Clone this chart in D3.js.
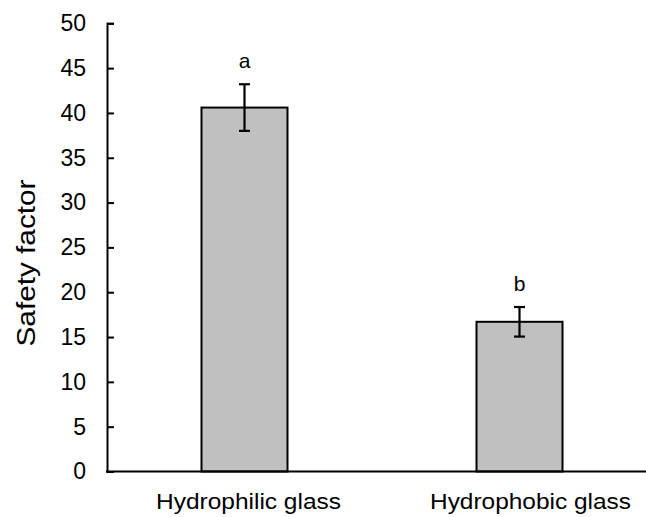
<!DOCTYPE html>
<html><head><meta charset="utf-8">
<script src="https://cdn.jsdelivr.net/npm/d3@7"></script>
<style>body{margin:0;background:#fff}svg{display:block}text{font-family:"Liberation Sans",Arial,sans-serif;fill:#000}</style>
</head><body>
<script>
const categories = ["Hydrophilic glass", "Hydrophobic glass"];
const means = [40.6, 16.7];
const errors = [2.6, 1.65];
const letters = ["a", "b"];
const yTicks = [0, 5, 10, 15, 20, 25, 30, 35, 40, 45, 50];

const W = 646, H = 517;
const svg = d3.select("body").append("svg").attr("width", W).attr("height", H);
const x = d3.scaleBand().domain(categories).range([107, 657]).paddingInner(0.6873).paddingOuter(0.34365);
const y = d3.scaleLinear().domain([0, 50]).range([471.5, 23.3]);

// bars
svg.selectAll("rect.bar").data(categories).join("rect")
  .attr("x", d => x(d)).attr("y", (d,i) => y(means[i]))
  .attr("width", x.bandwidth()).attr("height", (d,i) => y(0) - y(means[i]))
  .attr("fill", "#c0c0c0").attr("stroke", "#000").attr("stroke-width", 2);

// error bars
const cap = 5.5;
categories.forEach((c,i) => {
  const cx = x(c) + x.bandwidth()/2;
  const g = svg.append("g").attr("stroke", "#000").attr("stroke-width", 2.2);
  g.append("line").attr("x1", cx).attr("x2", cx).attr("y1", y(means[i]+errors[i])).attr("y2", y(means[i]-errors[i]));
  g.append("line").attr("x1", cx-cap).attr("x2", cx+cap).attr("y1", y(means[i]+errors[i])).attr("y2", y(means[i]+errors[i]));
  g.append("line").attr("x1", cx-cap).attr("x2", cx+cap).attr("y1", y(means[i]-errors[i])).attr("y2", y(means[i]-errors[i]));
  svg.append("text").attr("x", cx).attr("y", y(means[i]+errors[i]) - 16)
    .attr("text-anchor", "middle").attr("font-size", 21).text(letters[i]);
});

// y axis
const yAxis = svg.append("g").attr("transform", "translate(107,0)")
  .call(d3.axisLeft(y).tickValues(yTicks).tickSizeInner(-7).tickSizeOuter(-7).tickPadding(21));
yAxis.select(".domain").attr("stroke-width", 2);
yAxis.selectAll(".tick line").attr("stroke-width", 2);
yAxis.selectAll("text").attr("font-size", 23).attr("font-family", "Liberation Sans, Arial, sans-serif");

// x axis line
svg.append("line").attr("x1", 106).attr("x2", W).attr("y1", y(0)).attr("y2", y(0))
  .attr("stroke", "#000").attr("stroke-width", 2);

// x labels
const labelLen = [185, 201];
const labelDx = [4, 11];
categories.forEach((c,i) => {
  svg.append("text").attr("x", x(c) + x.bandwidth()/2 + labelDx[i]).attr("y", 509)
    .attr("text-anchor", "middle").attr("font-size", 22)
    .attr("textLength", labelLen[i]).attr("lengthAdjust", "spacingAndGlyphs").text(c);
});

// y title
svg.append("text").attr("transform", "translate(35,263) rotate(-90)")
  .attr("text-anchor", "middle").attr("font-size", 25)
  .attr("textLength", 167).attr("lengthAdjust", "spacingAndGlyphs").text("Safety factor");
</script>
</body></html>
